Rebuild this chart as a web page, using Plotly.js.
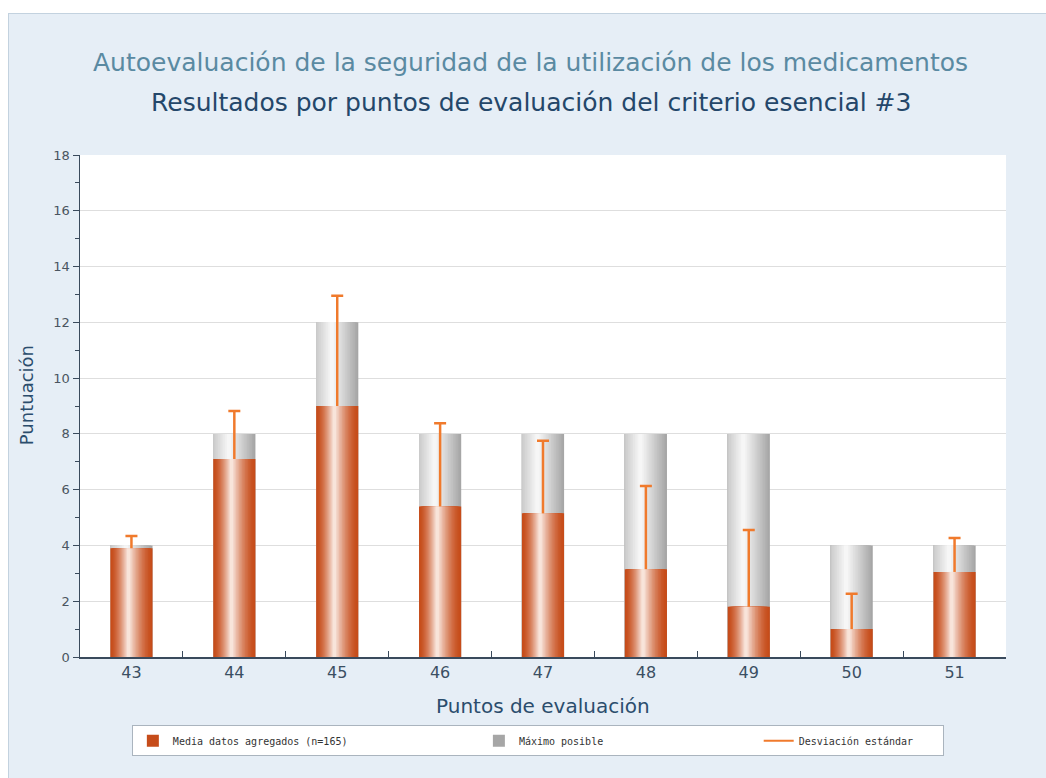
<!DOCTYPE html>
<html>
<head>
<meta charset="utf-8">
<script src="https://cdn.plot.ly/plotly-3.0.1.min.js"></script>
<style>
  html, body { margin:0; padding:0; background:#ffffff; width:1046px; height:778px; overflow:hidden; }
  #wrap { position:absolute; left:8px; top:13px; width:1038px; height:765px; border-left:1px solid #c3d2df; border-top:1px solid #c3d2df; background:#e6eef6; }
  #chart { width:1037px; height:764px; }
</style>
</head>
<body>
<div id="wrap"><div id="chart"></div></div>
<script>
// ---- data ----
const categories = ["43", "44", "45", "46", "47", "48", "49", "50", "51"];
const meanValues = [3.9, 7.1, 9.0, 5.4, 5.15, 3.15, 1.8, 1.0, 3.05];
const maxValues  = [4, 8, 12, 8, 8, 8, 8, 4, 4];
const sdValues   = [0.44, 1.72, 3.95, 2.98, 2.6, 2.98, 2.75, 1.27, 1.22];
const seriesNames = ["Media datos agregados (n=165)", "Máximo posible", "Desviación estándar"];
const titleText = "Autoevaluación de la seguridad de la utilización de los medicamentos";
const subtitleText = "Resultados por puntos de evaluación del criterio esencial #3";
const xTitle = "Puntos de evaluación";
const yTitle = "Puntuación";

// ---- styling: cylinder-like shading via layered bars ----
const BAR_W = 0.41;
const N_LAYERS = 16;
function hex(c) { return [1,3,5].map(i => parseInt(c.substr(i,2),16)); }
function mix(c1, c2, t) {
  const a = hex(c1), b = hex(c2);
  return "rgb(" + a.map((v,i) => Math.round(v + (b[i]-v)*t)).join(",") + ")";
}
// h: highlight position (fraction of bar width), t0: layer fraction at which left edge starts moving
function layerTraces(values, name, opt) {
  const out = [];
  for (let k = 0; k < N_LAYERS; k++) {
    const t = k / N_LAYERS;
    const lf = opt.h * Math.max(0, (t - opt.t0) / (1 - opt.t0));
    const rf = 1 - (1 - opt.h) * t * 0.97;
    const ct = Math.pow(t, opt.gamma);
    out.push({
      type: "bar",
      x: categories,
      y: values,
      width: BAR_W * (rf - lf),
      offset: -BAR_W / 2 + BAR_W * lf,
      marker: { color: mix(opt.edge, opt.light, ct), line: { width: 0 } },
      name: name,
      showlegend: k === 0,
      legendrank: opt.rank,
      hoverinfo: k === 0 ? "x+y" : "skip"
    });
  }
  return out;
}

// legend labels padded (non-breaking spaces) to spread entries like the original
const pad = n => "\u00a0".repeat(n);
const traces = []
  .concat(layerTraces(maxValues, seriesNames[1] + pad(25),
          { h: 0.36, t0: 0.45, edge: "#a6a6a6", light: "#fbfbfb", gamma: 1.0, rank: 2 }))
  .concat(layerTraces(meanValues, seriesNames[0] + pad(21),
          { h: 0.42, t0: 0.0, edge: "#c64c1a", light: "#fdf3ee", gamma: 1.5, rank: 1 }));

const sdColor = "#f07a2c";
// standard deviation: vertical stem from the mean upward (no caps)
traces.push({
  type: "scatter", mode: "markers",
  x: categories, y: meanValues,
  marker: { size: 1, opacity: 0 },
  error_y: {
    type: "data", symmetric: false, array: sdValues,
    arrayminus: sdValues.map(() => 0),
    color: sdColor, thickness: 2.5, width: 0
  },
  showlegend: false, hoverinfo: "skip"
});
// standard deviation: cap at the top end only
traces.push({
  type: "scatter", mode: "markers",
  x: categories, y: meanValues.map((m, i) => m + sdValues[i]),
  marker: { size: 1, opacity: 0 },
  error_y: {
    type: "data", symmetric: true, array: sdValues.map(() => 0),
    color: sdColor, thickness: 2.5, width: 6
  },
  showlegend: false, hoverinfo: "skip"
});
// legend entry for the standard deviation
traces.push({
  type: "scatter", mode: "lines",
  x: [categories[0]], y: [null],
  line: { color: sdColor, width: 2 },
  name: seriesNames[2] + pad(4), legendrank: 3
});

const layout = {
  width: 1037, height: 764,
  paper_bgcolor: "#e6eef6",
  plot_bgcolor: "#ffffff",
  margin: { l: 71, r: 40, t: 141, b: 121 },
  barmode: "overlay",
  font: { family: "DejaVu Sans, Verdana, sans-serif", color: "#3b4f63" },
  xaxis: {
    type: "category",
    categoryorder: "array", categoryarray: categories,
    tickson: "boundaries",
    ticks: "inside", ticklen: 6, tickcolor: "#3a4a5c", tickwidth: 1,
    showline: true, linecolor: "#3a4a5c", linewidth: 1.5,
    showgrid: false, zeroline: false,
    tickfont: { size: 16, color: "#3b4f63" },
    fixedrange: true
  },
  yaxis: {
    range: [0, 18], dtick: 2, tick0: 0,
    ticks: "outside", ticklen: 6, tickcolor: "#3a4a5c", tickwidth: 1,
    minor: { dtick: 1, ticks: "outside", ticklen: 4, tickcolor: "#3a4a5c", showgrid: false },
    showline: true, linecolor: "#3a4a5c", linewidth: 1.5,
    showgrid: true, gridcolor: "#dedede", gridwidth: 1,
    zeroline: false,
    tickfont: { size: 13, color: "#4a5560" },
    fixedrange: true
  },
  showlegend: true,
  legend: {
    orientation: "h",
    x: 0.056, xanchor: "left",
    y: -0.167, yanchor: "middle",
    bgcolor: "#ffffff", bordercolor: "#aab4be", borderwidth: 1,
    font: { family: "DejaVu Sans Mono, monospace", size: 10, color: "#333333" },
    traceorder: "normal",
    itemclick: false, itemdoubleclick: false
  },
  annotations: [
    { text: titleText, xref: "paper", yref: "paper", x: 0.486, y: 1.185,
      xanchor: "center", yanchor: "middle", showarrow: false,
      font: { size: 25, color: "#5a8aa2" } },
    { text: subtitleText, xref: "paper", yref: "paper", x: 0.487, y: 1.104,
      xanchor: "center", yanchor: "middle", showarrow: false,
      font: { size: 25, color: "#24476a" } },
    { text: xTitle, xref: "paper", yref: "paper", x: 0.5, y: -0.098,
      xanchor: "center", yanchor: "middle", showarrow: false,
      font: { size: 20, color: "#2b4d6d" } },
    { text: yTitle, xref: "paper", yref: "paper", x: -0.057, y: 0.522,
      xanchor: "center", yanchor: "middle", showarrow: false, textangle: -90,
      font: { size: 18, color: "#2b4d6d" } }
  ]
};

Plotly.newPlot("chart", traces, layout, { displayModeBar: false, staticPlot: true });
</script>
</body>
</html>
